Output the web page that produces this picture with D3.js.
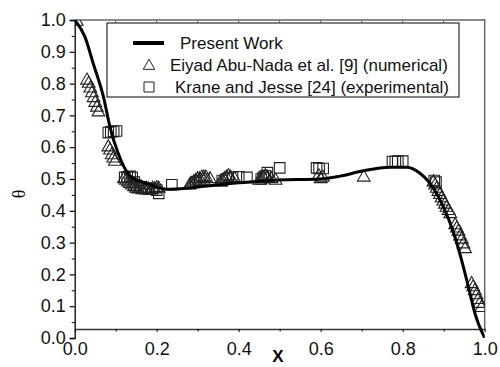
<!DOCTYPE html>
<html lang="en">
<head>
<meta charset="utf-8">
<title>Theta profile</title>
<script src="https://d3js.org/d3.v7.min.js"></script>
<style>
  body { margin: 0; background: #fff; }
  svg { display: block; }
  .tick text { font-family: "Liberation Sans", Arial, sans-serif; font-size: 18px; fill: #111; }
  .legend text { font-family: "Liberation Sans", Arial, sans-serif; font-size: 17px; fill: #111; }
</style>
</head>
<body>
<script>
// present work curve
var curveX = [0, 0.025, 0.045, 0.07, 0.086, 0.106, 0.135, 0.176, 0.224, 0.273, 0.322, 0.379, 0.436, 0.493, 0.598, 0.647, 0.704, 0.769, 0.81, 0.842, 0.875, 0.899, 0.923, 0.948, 0.964, 0.976, 1.0];
var curveY = [1.0, 0.947, 0.864, 0.759, 0.664, 0.581, 0.51, 0.486, 0.468, 0.471, 0.478, 0.486, 0.491, 0.497, 0.5, 0.509, 0.526, 0.537, 0.537, 0.518, 0.471, 0.413, 0.335, 0.224, 0.141, 0.078, 0.0];

// Eiyad Abu-Nada et al. (triangles)
var triX = [0.005, 0.030, 0.034, 0.038, 0.042, 0.046, 0.050, 0.054, 0.058,
  0.082, 0.086, 0.090, 0.094, 0.098,
  0.12, 0.125, 0.13, 0.135, 0.14, 0.145, 0.15, 0.155, 0.16, 0.165, 0.17, 0.175, 0.18, 0.185, 0.19, 0.195, 0.2, 0.205,
  0.28, 0.285, 0.29, 0.295, 0.30, 0.305, 0.31, 0.315, 0.32, 0.33,
  0.355, 0.36, 0.365, 0.37, 0.375, 0.38, 0.39,
  0.45, 0.455, 0.46, 0.465, 0.47, 0.48, 0.49,
  0.595, 0.6, 0.605, 0.705,
  0.875, 0.879, 0.883, 0.887, 0.891, 0.895, 0.899, 0.903, 0.907, 0.912, 0.916,
  0.928, 0.932, 0.936, 0.940, 0.944, 0.948, 0.952,
  0.968, 0.972, 0.976, 0.980, 0.984, 0.988, 0.992];
var triY = [0.995, 0.81, 0.80, 0.785, 0.77, 0.755, 0.74, 0.725, 0.71,
  0.60, 0.59, 0.575, 0.565, 0.555,
  0.50, 0.495, 0.49, 0.485, 0.48, 0.475, 0.47, 0.468, 0.47, 0.465, 0.468, 0.47, 0.468, 0.465, 0.47, 0.468, 0.472, 0.47,
  0.48, 0.485, 0.49, 0.495, 0.50, 0.50, 0.505, 0.505, 0.505, 0.50,
  0.49, 0.495, 0.50, 0.505, 0.51, 0.505, 0.50,
  0.495, 0.50, 0.505, 0.51, 0.505, 0.50, 0.495,
  0.51, 0.50, 0.505, 0.505,
  0.49, 0.48, 0.47, 0.46, 0.45, 0.44, 0.43, 0.42, 0.41, 0.40, 0.39,
  0.355, 0.345, 0.335, 0.32, 0.31, 0.295, 0.28,
  0.17, 0.16, 0.148, 0.135, 0.12, 0.108, 0.095];

// Krane and Jesse (squares)
var sqX = [0.082, 0.088, 0.095, 0.102,
  0.122, 0.128, 0.135, 0.14, 0.145, 0.15, 0.16, 0.17, 0.18, 0.19, 0.2, 0.205, 0.237,
  0.295, 0.305, 0.315,
  0.36, 0.37, 0.385, 0.40, 0.42,
  0.455, 0.46, 0.465, 0.47, 0.5,
  0.59, 0.596, 0.606,
  0.775, 0.782, 0.788, 0.80,
  0.877, 0.881];
var sqY = [0.646, 0.648, 0.65, 0.651,
  0.505, 0.507, 0.508, 0.505, 0.49, 0.48, 0.475, 0.47, 0.468, 0.47, 0.465, 0.455, 0.482,
  0.49, 0.495, 0.50,
  0.495, 0.50, 0.505, 0.507, 0.505,
  0.50, 0.505, 0.51, 0.52, 0.535,
  0.535, 0.533, 0.533,
  0.555, 0.555, 0.556, 0.556,
  0.495, 0.49];

var yTicks = [0, 0.1, 0.2, 0.3, 0.4, 0.5, 0.6, 0.7, 0.8, 0.9, 1.0];
var yMinor = [0.05, 0.15, 0.25, 0.35, 0.45, 0.55, 0.65, 0.75, 0.85, 0.95];
var xTicks = [0, 0.2, 0.4, 0.6, 0.8, 1.0];
var xMinor = [0.1, 0.3, 0.5, 0.7, 0.9];

var legendLabels = ["Present Work", "Eiyad Abu-Nada et al. [9] (numerical)", "Krane and Jesse [24] (experimental)"];

var width = 500, height = 367;
var svg = d3.select("body").append("svg")
    .attr("width", width)
    .attr("height", height);

var x = d3.scaleLinear().domain([0, 1]).range([74.7, 484.7]);
var y = d3.scaleLinear().domain([0, 1]).range([338, 20]);
var fmt = d3.format(".1f");

svg.append("clipPath").attr("id", "clip")
  .append("rect").attr("x", 74.7).attr("y", 20).attr("width", 410).attr("height", 318);

// frame top and right
svg.append("line").attr("x1", x(0)).attr("x2", x(1)).attr("y1", y(1)).attr("y2", y(1))
  .attr("stroke", "#666").attr("stroke-width", 1.5);
svg.append("line").attr("x1", x(1)).attr("x2", x(1)).attr("y1", y(1) - 1).attr("y2", 329)
  .attr("stroke", "#666").attr("stroke-width", 1.5);
svg.append("g").selectAll("line").data(xMinor.concat(xTicks.slice(1, 5)))
  .enter().append("line")
  .attr("x1", function(d) { return x(d); }).attr("x2", function(d) { return x(d); })
  .attr("y1", y(1)).attr("y2", y(1) + 2.5)
  .attr("stroke", "#666");

// left axis
var gy = svg.append("g").attr("transform", "translate(" + x(0) + ",0)")
  .call(d3.axisLeft(y).tickValues(yTicks).tickSize(5).tickPadding(4).tickFormat(fmt));
svg.append("g").attr("transform", "translate(" + x(0) + ",0)")
  .call(d3.axisLeft(y).tickValues(yMinor).tickSize(3).tickFormat(""))
  .select(".domain").remove();
gy.select(".domain").attr("stroke", "#000").attr("stroke-width", 1.3);
gy.selectAll(".tick line").attr("stroke-width", 1.2);

// bottom axis (sits a little above theta = 0)
var gx = svg.append("g").attr("transform", "translate(0,329)")
  .call(d3.axisBottom(x).tickValues(xTicks).tickSize(3).tickSizeOuter(0).tickFormat(fmt));
gx.selectAll(".tick text").attr("y", 26).attr("dy", 0);
gx.select(".domain").attr("stroke", "#333").attr("stroke-width", 1.3);
svg.append("g").attr("transform", "translate(0,329)")
  .call(d3.axisBottom(x).tickValues(xMinor).tickSize(2.5).tickFormat(""))
  .select(".domain").remove();

// axis titles
svg.append("text").attr("x", 278).attr("y", 362).attr("text-anchor", "middle")
  .attr("font-family", "Liberation Sans, Arial, sans-serif").attr("font-weight", "bold")
  .attr("font-size", 17).text("X");
svg.append("text").attr("transform", "translate(25,194) rotate(-90)").attr("text-anchor", "middle")
  .attr("font-family", "Liberation Serif, serif").attr("font-size", 18).text("θ");

// markers
var plot = svg.append("g").attr("clip-path", "url(#clip)");
var triangle = d3.symbol().type(d3.symbolTriangle).size(70);
var square = d3.symbol().type(d3.symbolSquare).size(112);

plot.selectAll(".tri").data(triX.map(function(d, i) { return [d, triY[i]]; }))
  .enter().append("path").attr("class", "tri")
  .attr("d", triangle)
  .attr("transform", function(d) { return "translate(" + x(d[0]) + "," + y(d[1]) + ")"; })
  .attr("fill", "none").attr("stroke", "#222").attr("stroke-width", 1.1);

plot.selectAll(".sq").data(sqX.map(function(d, i) { return [d, sqY[i]]; }))
  .enter().append("path").attr("class", "sq")
  .attr("d", square)
  .attr("transform", function(d) { return "translate(" + x(d[0]) + "," + y(d[1]) + ")"; })
  .attr("fill", "none").attr("stroke", "#222").attr("stroke-width", 1.1);

// present work
var line = d3.line()
  .x(function(d) { return x(d[0]); })
  .y(function(d) { return y(d[1]); })
  .curve(d3.curveMonotoneX);
plot.append("path").datum(curveX.map(function(d, i) { return [d, curveY[i]]; }))
  .attr("d", line).attr("fill", "none").attr("stroke", "#000").attr("stroke-width", 3);

// legend
var lg = svg.append("g").attr("class", "legend");
lg.append("rect").attr("x", 107).attr("y", 23).attr("width", 352).attr("height", 74)
  .attr("fill", "#fff").attr("stroke", "#000").attr("stroke-width", 1);
lg.append("line").attr("x1", 133).attr("x2", 164).attr("y1", 43).attr("y2", 43)
  .attr("stroke", "#000").attr("stroke-width", 4);
lg.append("path").attr("d", d3.symbol().type(d3.symbolTriangle).size(58)).attr("transform", "translate(149,66)")
  .attr("fill", "none").attr("stroke", "#222");
lg.append("path").attr("d", d3.symbol().type(d3.symbolSquare).size(100)).attr("transform", "translate(149,87)")
  .attr("fill", "none").attr("stroke", "#222");
lg.append("text").attr("x", 180).attr("y", 49).text(legendLabels[0]);
lg.append("text").attr("x", 170).attr("y", 71).text(legendLabels[1]);
lg.append("text").attr("x", 175).attr("y", 93).text(legendLabels[2]);
</script>
</body>
</html>
